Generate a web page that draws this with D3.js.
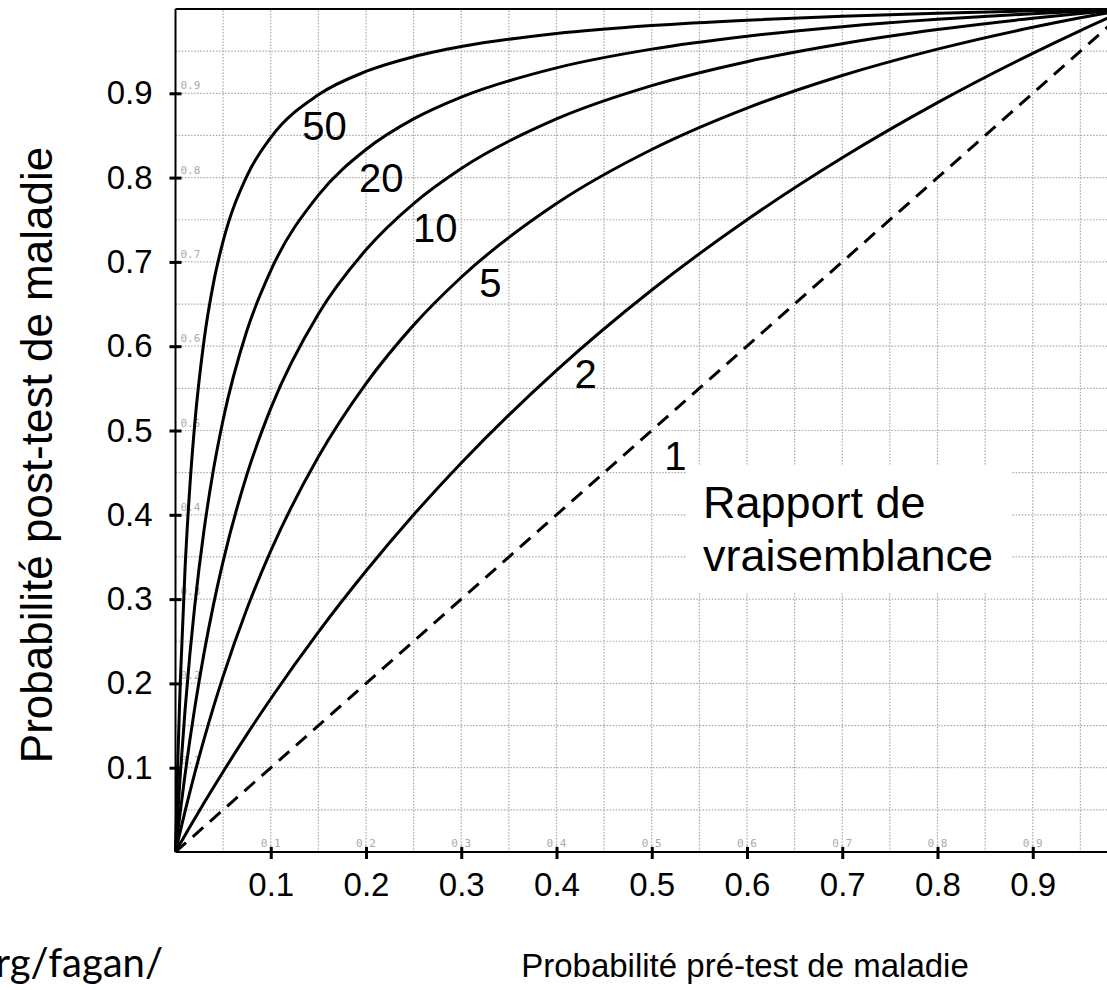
<!DOCTYPE html>
<html>
<head>
<meta charset="utf-8">
<script src="https://cdn.jsdelivr.net/npm/d3@7"></script>
<style>
  body { margin: 0; background: #fff; }
  svg { display: block; }
</style>
</head>
<body>
<svg id="chart"></svg>
<script>
// pre-test probabilities where the curves were read
const preTest = [0, 0.0025, 0.005, 0.01, 0.015, 0.02, 0.03, 0.04, 0.05, 0.075, 0.1,
  0.15, 0.2, 0.25, 0.3, 0.4, 0.5, 0.6, 0.7, 0.8, 0.9, 0.95, 1];

// post-test probability
const lr2 = [0, 0.005, 0.0100, 0.0198, 0.0296, 0.0392, 0.0583, 0.0769, 0.0952, 0.1395, 0.1818,
  0.2609, 0.3333, 0.4000, 0.4615, 0.5714, 0.6667, 0.7500, 0.8235, 0.8889, 0.9474, 0.9744, 1];
const lr5 = [0, 0.0124, 0.0245, 0.0481, 0.0708, 0.0926, 0.1339, 0.1724, 0.2083, 0.2885, 0.3571,
  0.4688, 0.5556, 0.6250, 0.6818, 0.7692, 0.8333, 0.8824, 0.9211, 0.9524, 0.9783, 0.9896, 1];
const lr10 = [0, 0.0245, 0.0478, 0.0917, 0.1322, 0.1695, 0.2362, 0.2941, 0.3448, 0.4478, 0.5263,
  0.6383, 0.7143, 0.7692, 0.8108, 0.8696, 0.9091, 0.9375, 0.9589, 0.9756, 0.9890, 0.9948, 1];
const lr20 = [0, 0.0477, 0.0913, 0.1681, 0.2335, 0.2899, 0.3822, 0.4545, 0.5128, 0.6186, 0.6897,
  0.7792, 0.8333, 0.8696, 0.8955, 0.9302, 0.9524, 0.9677, 0.9790, 0.9877, 0.9945, 0.9974, 1];
const lr50 = [0, 0.1114, 0.2008, 0.3356, 0.4323, 0.5051, 0.6073, 0.6757, 0.7246, 0.8021, 0.8475,
  0.8982, 0.9259, 0.9434, 0.9554, 0.9709, 0.9804, 0.9868, 0.9915, 0.9950, 0.9978, 0.9989, 1];

// LR = 1 : the diagonal
const diagX = [0, 1];
const diagY = [0, 1];

const curveSeries = [lr50, lr20, lr10, lr5, lr2];
// where each number sits, in chart units (pre-test, post-test)
const labelAt = [[0.1565, 0.845], [0.2159, 0.783], [0.2726, 0.724], [0.3307, 0.658],
  [0.4307, 0.550], [0.5247, 0.453]];
const labelNames = ["50", "20", "10", "5", "2", "1"];

const tickVals = [0.1, 0.2, 0.3, 0.4, 0.5, 0.6, 0.7, 0.8, 0.9];
const tickText = ["0.1", "0.2", "0.3", "0.4", "0.5", "0.6", "0.7", "0.8", "0.9"];
const gridVals = d3.range(1, 20).map(i => i / 20);

function main() {
  const width = 1107, height = 990;
  const sans = "'Liberation Sans', Arial, sans-serif";

  const svg = d3.select("#chart")
    .attr("width", width)
    .attr("height", height);

  const x = d3.scaleLinear().domain([0, 1]).range([175.5, 1128]);
  const y = d3.scaleLinear().domain([0, 1]).range([852, 9]);

  // dotted grid
  const grid = svg.append("g")
    .attr("stroke", "#a8a8a8")
    .attr("stroke-width", 1.2)
    .attr("stroke-dasharray", "1.5,1.6");
  grid.selectAll("line.v")
    .data(gridVals).enter()
    .append("line")
      .attr("class", "v")
      .attr("x1", d => x(d)).attr("x2", d => x(d))
      .attr("y1", y(0)).attr("y2", y(1));
  grid.selectAll("line.h")
    .data(gridVals).enter()
    .append("line")
      .attr("class", "h")
      .attr("x1", x(0)).attr("x2", x(1))
      .attr("y1", d => y(d)).attr("y2", d => y(d));

  // white box behind the legend text
  svg.append("rect")
    .attr("x", 687).attr("y", 465)
    .attr("width", 325).attr("height", 127)
    .attr("fill", "#fff");

  // small grey labels inside the frame
  const mono = "'DejaVu Sans Mono', monospace";
  svg.append("g").selectAll("text")
    .data(tickVals).enter()
    .append("text")
      .attr("x", d => x(d))
      .attr("y", y(0) - 5)
      .attr("text-anchor", "middle")
      .attr("font-family", mono)
      .attr("font-size", 11)
      .attr("fill", "#aaa")
      .text((d, i) => tickText[i]);
  svg.append("g").selectAll("text")
    .data(tickVals).enter()
    .append("text")
      .attr("x", x(0) + 5)
      .attr("y", d => y(d) - 4)
      .attr("font-family", mono)
      .attr("font-size", 11)
      .attr("fill", "#aaa")
      .text((d, i) => tickText[i]);

  // frame
  const frame = svg.append("g").attr("stroke", "#000").attr("stroke-width", 2);
  frame.append("line")
    .attr("x1", x(0)).attr("x2", x(0)).attr("y1", y(0)).attr("y2", y(1));
  frame.append("line")
    .attr("x1", x(0)).attr("x2", x(1)).attr("y1", y(0)).attr("y2", y(0));
  frame.append("line")
    .attr("x1", x(0)).attr("x2", x(1)).attr("y1", y(1)).attr("y2", y(1));

  // axes: ticks cross the frame, big labels outside
  const xAxis = d3.axisBottom(x).tickValues(tickVals).tickSize(0)
    .tickPadding(21).tickFormat((d, i) => tickText[i]);
  const gx = svg.append("g")
    .attr("transform", `translate(0,${y(0)})`)
    .call(xAxis);
  gx.select(".domain").remove();
  gx.selectAll("text")
    .attr("font-family", sans)
    .attr("font-size", 33)
    .attr("fill", "#000");
  gx.selectAll(".tick").append("line")
    .attr("y1", -5).attr("y2", 7)
    .attr("stroke", "#000").attr("stroke-width", 3);

  const yAxis = d3.axisLeft(y).tickValues(tickVals).tickSize(0)
    .tickPadding(23).tickFormat((d, i) => tickText[i]);
  const gy = svg.append("g")
    .attr("transform", `translate(${x(0)},0)`)
    .call(yAxis);
  gy.select(".domain").remove();
  gy.selectAll("text")
    .attr("font-family", sans)
    .attr("font-size", 33)
    .attr("fill", "#000");
  gy.selectAll(".tick").append("line")
    .attr("x1", -6).attr("x2", 6)
    .attr("stroke", "#000").attr("stroke-width", 3);

  // curves
  const lineMaker = d3.line()
    .x(d => x(d[0]))
    .y(d => y(d[1]))
    .curve(d3.curveMonotoneX);

  svg.append("g")
    .selectAll("path")
    .data(curveSeries).enter()
    .append("path")
      .attr("d", s => lineMaker(preTest.map((p, i) => [p, s[i]])))
      .attr("fill", "none")
      .attr("stroke", "#000")
      .attr("stroke-width", 3);

  svg.append("path")
    .attr("d", lineMaker(diagX.map((p, i) => [p, diagY[i]])))
    .attr("fill", "none")
    .attr("stroke", "#000")
    .attr("stroke-width", 3)
    .attr("stroke-dasharray", "14,9");

  // curve numbers
  svg.append("g").selectAll("text")
    .data(labelAt).enter()
    .append("text")
      .attr("x", d => x(d[0]))
      .attr("y", d => y(d[1]))
      .attr("text-anchor", "middle")
      .attr("font-family", sans)
      .attr("font-size", 40)
      .text((d, i) => labelNames[i]);

  // legend text
  const legend = svg.append("text")
    .attr("font-family", sans)
    .attr("font-size", 45);
  legend.append("tspan").attr("x", 703).attr("y", 518).text("Rapport de");
  legend.append("tspan").attr("x", 703).attr("y", 571).text("vraisemblance");

  // axis titles
  svg.append("text")
    .attr("transform", `translate(52,455) rotate(-90)`)
    .attr("text-anchor", "middle")
    .attr("font-family", sans)
    .attr("font-size", 44)
    .text("Probabilité post-test de maladie");

  svg.append("text")
    .attr("x", 745)
    .attr("y", 977)
    .attr("text-anchor", "middle")
    .attr("font-family", sans)
    .attr("font-size", 33)
    .text("Probabilité pré-test de maladie");

  svg.append("text")
    .attr("x", 163)
    .attr("y", 977)
    .attr("text-anchor", "end")
    .attr("font-family", "Lato, 'Open Sans', sans-serif")
    .attr("font-size", 40)
    .text("rg/fagan/");
}

window.addEventListener("load", main);
</script>
</body>
</html>
